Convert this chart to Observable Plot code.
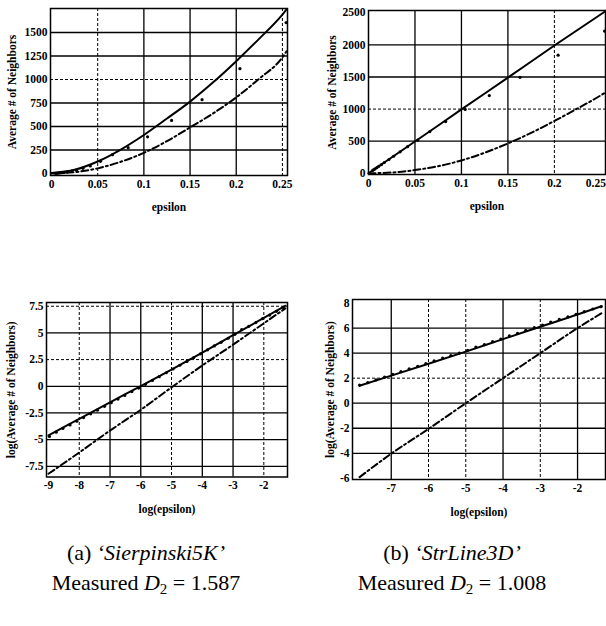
<!DOCTYPE html>
<html>
<head>
<meta charset="utf-8">
<script src="https://cdn.jsdelivr.net/npm/d3@7"></script>
<script src="https://cdn.jsdelivr.net/npm/@observablehq/plot@0.6"></script>
<style>
  html, body { margin: 0; padding: 0; background: #fff; }
  body { position: relative; width: 606px; height: 626px; overflow: hidden; }
  .panel { position: absolute; }
  .cap { position: absolute; width: 300px; text-align: center; color: #000;
         font-family: "Liberation Serif", "DejaVu Serif", serif; font-size: 22px; line-height: 30px; white-space: nowrap; }
  .cap sub { font-size: 0.68em; vertical-align: -0.3em; line-height: 0; }
</style>
</head>
<body>
<div id="pa" class="panel" style="left:0px;top:0px"></div>
<div id="pb" class="panel" style="left:300px;top:0px"></div>
<div id="pc" class="panel" style="left:0px;top:280px"></div>
<div id="pd" class="panel" style="left:300px;top:280px"></div>
<div class="cap" style="left:-4px;top:538px">(a) <i>‘Sierpinski5K’</i></div>
<div class="cap" style="left:-4px;top:568px">Measured <i>D</i><sub>2</sub> = 1.587</div>
<div class="cap" style="left:302px;top:538px">(b) <i>‘StrLine3D’</i></div>
<div class="cap" style="left:302px;top:568px">Measured <i>D</i><sub>2</sub> = 1.008</div>
<script>
// ---------- DATA ----------
// (a) Sierpinski5K, linear axes
const epsFitA = [0, 0.025, 0.05, 0.075, 0.1, 0.125, 0.15, 0.175, 0.2, 0.225, 0.25, 0.2545];
const nbrFitA = [5, 40, 128, 255, 410, 585, 765, 970, 1195, 1435, 1690, 1745];
const nbrRefA = [0, 15, 55, 125, 220, 345, 490, 640, 810, 1010, 1235, 1300];
const epsDots = [0.0045, 0.0055, 0.007, 0.009, 0.011, 0.014, 0.017, 0.022, 0.027, 0.034, 0.042, 0.053, 0.066, 0.083, 0.104, 0.13, 0.163, 0.204, 0.254];
const nbrDotsA = [2, 3, 4, 6, 9, 13, 18, 26, 36, 55, 80, 130, 200, 275, 390, 565, 785, 1115, 1605];

// (b) StrLine3D, linear axes
const epsFitB = [0, 0.05, 0.1, 0.15, 0.2, 0.2545];
const nbrFitB = [0, 495, 995, 1490, 1990, 2520];
const epsRefB = [0, 0.025, 0.05, 0.075, 0.1, 0.125, 0.15, 0.175, 0.2, 0.225, 0.25, 0.2545];
const nbrRefB = [0, 12, 50, 110, 200, 320, 465, 630, 815, 1010, 1215, 1255];
const nbrDotsB = [45, 55, 68, 88, 108, 136, 168, 215, 265, 335, 415, 515, 650, 805, 995, 1210, 1495, 1840, 2215];

// (a) log-log
const logEpsFitC = [-9, -8, -7, -6, -5, -4, -3, -2, -1.3];
const logNbrFitC = [-4.6, -3.05, -1.5, 0.02, 1.57, 3.15, 4.8, 6.4, 7.55];
const logNbrRefC = [-8.2, -6.2, -4.15, -2.2, -0.1, 1.95, 3.9, 5.9, 7.3];
const logEpsDotsC = [-8.97, -8.75, -8.53, -8.30, -8.08, -7.86, -7.63, -7.41, -7.18, -6.96, -6.74, -6.52, -6.29, -6.07, -5.85, -5.62, -5.40, -5.17, -4.95, -4.73, -4.50, -4.28, -4.06, -3.83, -3.61, -3.39, -3.16, -2.94, -2.72, -2.49, -2.26, -2.04, -1.81, -1.59, -1.37];
const logNbrDotsC = [-4.70, -4.30, -3.95, -3.62, -3.27, -2.93, -2.58, -2.24, -1.88, -1.54, -1.20, -0.86, -0.50, -0.17, 0.18, 0.55, 0.90, 1.27, 1.62, 1.97, 2.33, 2.68, 3.04, 3.42, 3.78, 4.12, 4.50, 4.87, 5.30, 5.62, 5.97, 6.34, 6.67, 7.02, 7.38];

// (b) log-log
const logEpsFitD = [-7.85, -7, -6, -5, -4, -3, -2, -1.35];
const logNbrFitD = [1.4, 2.2, 3.15, 4.12, 5.12, 6.1, 7.08, 7.75];
const logEpsRefD = [-7.85, -7, -6, -5, -4, -3, -2, -1.32];
const logNbrRefD = [-5.9, -4.03, -2.05, 0, 2, 4, 6, 7.25];
const logEpsDotsD = [-7.85, -7.63, -7.41, -7.18, -6.96, -6.74, -6.52, -6.29, -6.07, -5.85, -5.62, -5.40, -5.17, -4.95, -4.73, -4.50, -4.28, -4.06, -3.83, -3.61, -3.39, -3.16, -2.94, -2.72, -2.49, -2.26, -2.04, -1.82, -1.59, -1.37];
const logNbrDotsD = [1.45, 1.64, 1.86, 2.08, 2.30, 2.52, 2.74, 2.95, 3.17, 3.38, 3.60, 3.80, 4.00, 4.22, 4.48, 4.68, 4.91, 5.12, 5.37, 5.58, 5.81, 6.03, 6.24, 6.48, 6.69, 6.90, 7.10, 7.31, 7.52, 7.70];

// tick values
const epsTicks = [0, 0.05, 0.1, 0.15, 0.2, 0.25];
const nbrTicksA = [0, 250, 500, 750, 1000, 1250, 1500];
const nbrTicksB = [0, 500, 1000, 1500, 2000, 2500];
const logEpsTicksC = [-9, -8, -7, -6, -5, -4, -3, -2];
const logNbrTicksC = [-7.5, -5, -2.5, 0, 2.5, 5, 7.5];
const logEpsTicksD = [-7, -6, -5, -4, -3, -2];
const logNbrTicksD = [-6, -4, -2, 0, 2, 4, 6, 8];

// ---------- LAYOUT / STYLE ----------
const rows = (xs, ys) => xs.map((x, i) => ({x, y: ys[i]}));
const fmt = d => String(d);

function panel(id, c) {
  const xMain = c.edgeTick == null ? c.xTicks : c.xTicks.filter(t => t !== c.edgeTick);
  const marks = [
    Plot.ruleX(c.gx, {stroke: "#000", strokeWidth: 1.3}),
    Plot.ruleX(c.gxd, {stroke: "#000", strokeWidth: 1, strokeDasharray: "3,2"}),
    Plot.ruleY(c.gy, {stroke: "#000", strokeWidth: 1.3}),
    Plot.ruleY(c.gyd, {stroke: "#000", strokeWidth: 1, strokeDasharray: "3,2"}),
    Plot.line(c.ref, {x: "x", y: "y", stroke: "#000", strokeWidth: 2, strokeDasharray: "7,3,2,3", curve: "monotone-x"}),
    Plot.line(c.fit, {x: "x", y: "y", stroke: "#000", strokeWidth: 2, curve: "monotone-x"}),
    Plot.dot(c.dots, {x: "x", y: "y", r: 1.6, fill: "#000", stroke: "none"}),
    Plot.frame({stroke: "#000", strokeWidth: 1.5}),
    Plot.axisX({ticks: xMain, tickSize: 0, tickPadding: 4, tickFormat: fmt, label: c.xLabel, labelAnchor: "center", labelOffset: c.xlo, labelArrow: "none"}),
    Plot.axisY({ticks: c.yTicks, tickSize: 0, tickPadding: 3, tickFormat: fmt, label: c.yLabel, labelAnchor: "center", labelOffset: c.ylo, labelArrow: "none"})
  ];
  if (c.edgeTick != null) {
    marks.push(Plot.axisX({ticks: [c.edgeTick], tickSize: 0, tickPadding: 4, tickFormat: fmt, label: null, dx: -5}));
  }
  const chart = Plot.plot({
    width: c.width, height: c.height,
    marginLeft: c.ml, marginRight: c.mr, marginTop: c.mt, marginBottom: c.mb,
    style: {fontFamily: "'Liberation Serif', 'Times New Roman', serif", fontSize: "11.5px", fontWeight: "bold", color: "#000", background: "transparent", overflow: "visible"},
    x: {domain: c.xDomain},
    y: {domain: c.yDomain},
    marks
  });
  document.getElementById(id).appendChild(chart);
}

panel("pa", {
  width: 300, height: 220, ml: 50, mr: 13, mt: 8, mb: 45,
  xDomain: [-0.0011, 0.2555], yDomain: [-21, 1755],
  xTicks: epsTicks, yTicks: nbrTicksA,
  gx: [0.1, 0.15, 0.2], gxd: [0.05, 0.25], gy: [250, 500, 750, 1250, 1500], gyd: [1000],
  fit: rows(epsFitA, nbrFitA), ref: rows(epsFitA, nbrRefA), dots: rows(epsDots, nbrDotsA),
  xLabel: "epsilon", yLabel: "Average # of Neighbors", xlo: 35, ylo: 43
});
panel("pb", {
  width: 306, height: 220, ml: 68, mr: 1, mt: 10, mb: 46,
  xDomain: [0, 0.255], yDomain: [-19, 2536],
  xTicks: epsTicks, yTicks: nbrTicksB, edgeTick: 0.25,
  gx: [0.05, 0.1, 0.15], gxd: [0.2], gy: [500, 1500, 2000], gyd: [1000],
  fit: rows(epsFitB, nbrFitB), ref: rows(epsRefB, nbrRefB), dots: rows(epsDots, nbrDotsB),
  xLabel: "epsilon", yLabel: "Average # of Neighbors", xlo: 35, ylo: 41
});
panel("pc", {
  width: 300, height: 240, ml: 46, mr: 13, mt: 22, mb: 43.5,
  xDomain: [-9.065, -1.23], yDomain: [-8.5, 7.85],
  xTicks: logEpsTicksC, yTicks: logNbrTicksC,
  gx: [-7, -6, -4, -3], gxd: [-8, -5, -2], gy: [5, 0, -2.5, -5, -7.5], gyd: [7.5, 2.5],
  fit: rows(logEpsFitC, logNbrFitC), ref: rows(logEpsFitC, logNbrRefC), dots: rows(logEpsDotsC, logNbrDotsC),
  xLabel: "log(epsilon)", yLabel: "log(Average # of Neighbors)", xlo: 36, ylo: 40
});
panel("pd", {
  width: 306, height: 240, ml: 52, mr: 1, mt: 19, mb: 41,
  xDomain: [-8.04, -1.25], yDomain: [-6.09, 8.28],
  xTicks: logEpsTicksD, yTicks: logNbrTicksD,
  gx: [-7, -4, -2], gxd: [-6, -5, -3], gy: [6, 4, 0, -2, -4], gyd: [2],
  fit: rows(logEpsFitD, logNbrFitD), ref: rows(logEpsRefD, logNbrRefD), dots: rows(logEpsDotsD, logNbrDotsD),
  xLabel: "log(epsilon)", yLabel: "log(Average # of Neighbors)", xlo: 36, ylo: 27
});
</script>
</body>
</html>
